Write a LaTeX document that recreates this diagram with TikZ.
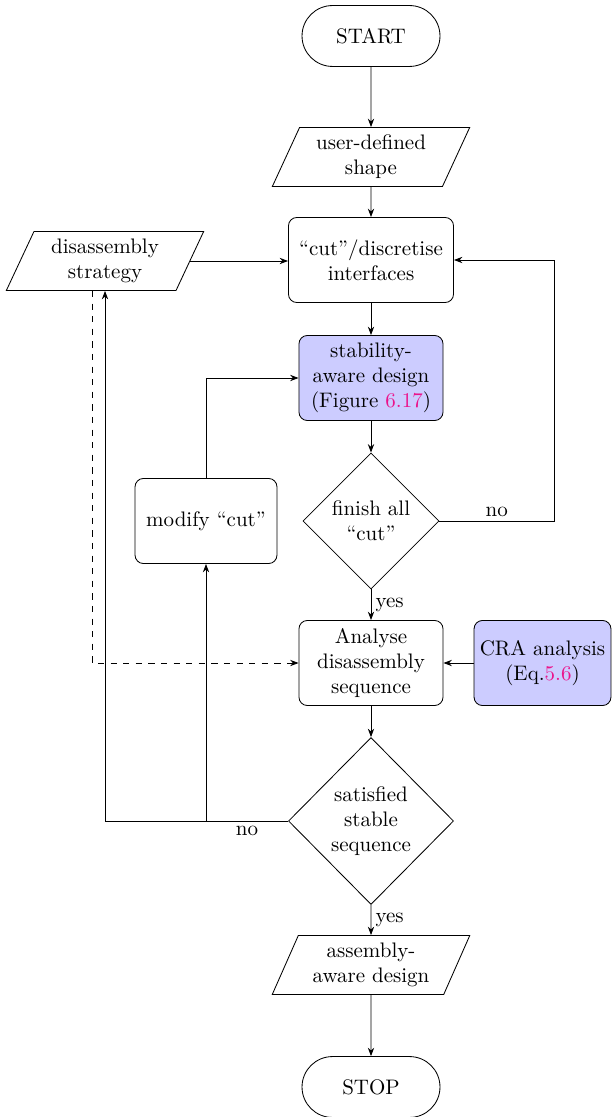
\documentclass[tikz,border=0pt]{standalone}
\usetikzlibrary{shapes.geometric,arrows.meta}
\definecolor{refpink}{RGB}{235,20,140}
\begin{document}
\begin{tikzpicture}[x=0.47619pt,y=-0.47619pt,
  >={Stealth[length=4pt,width=3pt]},
  every node/.style={align=center},
  term/.style={draw, rectangle, rounded corners=14.5pt, minimum width=65.7pt, minimum height=29pt, inner sep=0pt},
  io/.style={draw, trapezium, trapezium left angle=64.6, trapezium right angle=115.4,
             trapezium stretches=true, minimum width=94.3pt, minimum height=28.1pt, inner sep=0pt},
  proc/.style={draw, rectangle, rounded corners=4pt, minimum height=40.5pt, inner sep=2pt},
  hl/.style={proc, fill=blue!20},
  dec/.style={draw, diamond, inner sep=0pt},
  lab/.style={inner sep=2pt}
]
\useasboundingbox (0,0) rectangle (611,1117);

% main column
\node[term] (start) at (371,36) {START};
\node[io] (user) at (371,157) {user-defined\\shape};
\node[proc, minimum width=78.6pt] (cut) at (371,260) {``cut''/discretise\\interfaces};
\node[hl, minimum width=68.6pt] (stab) at (371,378) {stability-\\aware design\\(Figure \textcolor{refpink}{6.17})};
\node[dec, minimum width=64.8pt, minimum height=64.8pt] (finish) at (371,521) {finish all\\``cut''};
\node[proc, minimum width=68.6pt] (analyse) at (371,663) {Analyse\\disassembly\\sequence};
\node[dec, minimum width=78.6pt, minimum height=79.5pt] (sat) at (371,821) {satisfied\\stable\\sequence};
\node[io] (assembly) at (371,965) {assembly-\\aware design};
\node[term] (stop) at (371,1087) {STOP};

% side nodes
\node[io] (dis) at (105,261) {disassembly\\strategy};
\node[proc, minimum width=67.6pt] (modify) at (206,521) {modify ``cut''};
\node[hl, minimum width=65.2pt] (cra) at (542.5,663) {CRA analysis\\(Eq.\textcolor{refpink}{5.6})};

\coordinate (rt) at (554,521);

% connectors
\draw[->] (start) -- (user);
\draw[->] (user) -- (cut);
\draw[->] (dis.east) -- (cut.west |- dis.east);
\draw[->] (cut) -- (stab);
\draw[->] (stab) -- (finish);
\draw[->] (finish.east) -- node[lab, above] {no} (finish.east -| rt) |- (cut.east);
\draw[->] (finish) -- node[lab, right] {yes} (analyse);
\draw[->] (cra) -- (analyse);
\draw[->] (analyse) -- (sat);
\draw[->] (sat) -- node[lab, right] {yes} (assembly);
\draw[->] (assembly) -- (stop);

\draw[->] (sat.west) -| (dis.south);
\draw[->] (sat.west -| modify.south) -- (modify.south);
\path (sat.west) -- node[lab, below] {no} (sat.west -| modify.south);
\draw[->] (modify.north) |- (stab.west);
\draw[->, dashed] ([xshift=-6.2pt]dis.south) |- (analyse.west);
\end{tikzpicture}
\end{document}
